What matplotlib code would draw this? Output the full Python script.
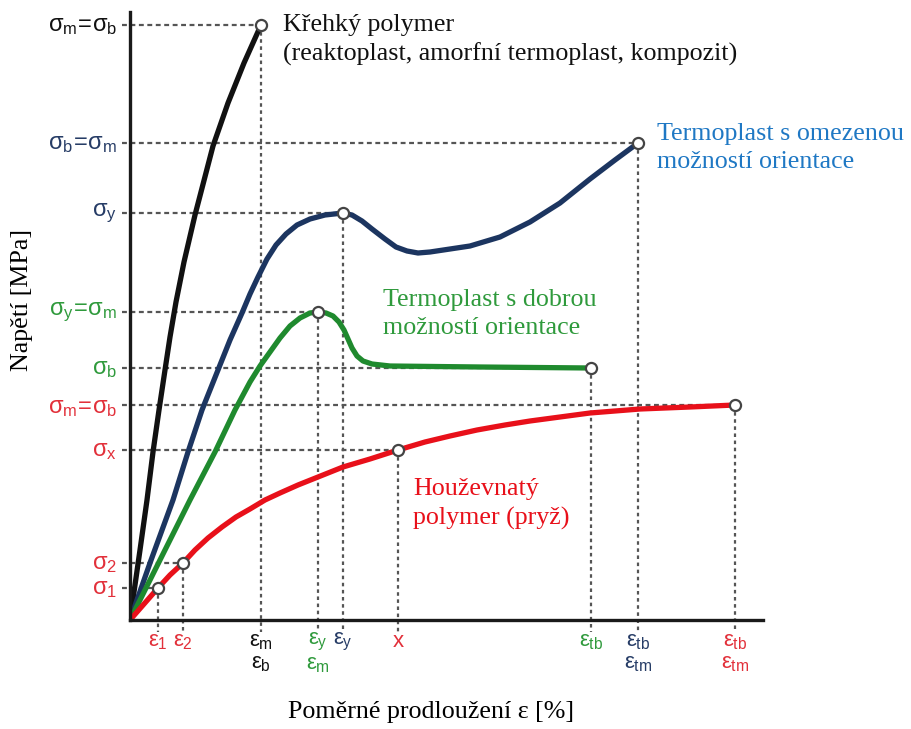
import matplotlib
matplotlib.use("Agg")
import matplotlib.pyplot as plt

# Settings
plt.rcParams['mathtext.fontset'] = 'custom'
plt.rcParams['mathtext.rm'] = 'Liberation Sans'
plt.rcParams['mathtext.it'] = 'Liberation Sans'
plt.rcParams['mathtext.bf'] = 'Liberation Sans:bold'
SERIF = 'Liberation Serif'

BLACK = '#111111'
NAVY = '#1c3560'
GREEN = '#1f8a2e'
RED = '#e8101a'
NAVY_TXT = '#263c66'
GREEN_TXT = '#2f9a3c'
RED_TXT = '#e2303a'
BLUE_TXT = '#1f78c4'
DASH = '#555555'

# Curves (strain, stress) in arbitrary units
brittle_x = [0, 10, 17, 23, 29, 35, 40, 46, 54, 65, 83, 98, 114, 131]
brittle_y = [0, 70, 120, 168, 210, 250, 283, 318, 358, 405, 474, 517, 557, 595]

limited_x = [0, 20, 43, 58, 72, 88, 100, 112, 120, 128, 137, 146, 156, 167,
             180, 195, 213, 222, 232, 242, 255, 266, 277, 288, 300, 320, 340,
             370, 400, 430, 460, 485, 508]
limited_y = [0, 57, 120, 168, 210, 250, 280, 307, 326, 343, 361, 375, 386, 395,
             401, 405, 407, 405, 399, 391, 381, 373, 369, 367, 368, 371, 374,
             383, 398, 417, 441, 460, 477]

good_x = [0, 30, 60, 85, 105, 120, 130, 140, 150, 160, 170, 180, 188, 196,
          203, 209, 214, 218, 222, 227, 233, 242, 260, 350, 461]
good_y = [0, 60, 120, 168, 210, 238, 254, 268, 282, 294, 302, 307, 308, 307,
          304, 298, 290, 281, 272, 264, 259, 256, 254, 253, 252]

tough_x = [0, 14, 28, 40, 53, 65, 78, 92, 106, 120, 135, 150, 168, 188, 213,
           240, 268, 295, 320, 347, 375, 400, 430, 460, 510, 560, 605]
tough_y = [0, 16, 32, 45, 57, 70, 82, 93, 103, 111, 120, 127, 135, 143, 153,
           161, 170, 178, 184, 190, 195, 199, 203, 207, 211, 213, 215]

# Marked points (strain, stress) with dashed guides to both axes
mark_x = [131, 508, 213, 188, 461, 605, 268, 53, 28]
mark_y = [595, 477, 407, 308, 252, 215, 170, 57, 32]

# Axis labels on the stress axis
ytick_vals = [595, 477, 407, 308, 252, 213, 170, 57, 32]
ytick_labels = [r'$\sigma_{m}\!=\!\sigma_{b}$', r'$\sigma_{b}\!=\!\sigma_{m}$',
                r'$\sigma_{y}$', r'$\sigma_{y}\!=\!\sigma_{m}$', r'$\sigma_{b}$',
                r'$\sigma_{m}\!=\!\sigma_{b}$', r'$\sigma_{x}$', r'$\sigma_{2}$',
                r'$\sigma_{1}$']
ytick_colors = [BLACK, NAVY_TXT, NAVY_TXT, GREEN_TXT, GREEN_TXT,
                RED_TXT, RED_TXT, RED_TXT, RED_TXT]

# Axis labels on the strain axis
xtick_vals = [28, 53, 131, 188, 213, 268, 461, 508, 605]
xtick_labels = [r'$\varepsilon_{1}$', r'$\varepsilon_{2}$',
                '$\\varepsilon_{m}$\n$\\varepsilon_{b}$',
                '$\\varepsilon_{y}$\n$\\varepsilon_{m}$',
                r'$\varepsilon_{y}$', 'x', r'$\varepsilon_{tb}$',
                '$\\varepsilon_{tb}$\n$\\varepsilon_{tm}$',
                '$\\varepsilon_{tb}$\n$\\varepsilon_{tm}$']
xtick_colors = [RED_TXT, RED_TXT, BLACK, GREEN_TXT, NAVY_TXT, RED_TXT,
                GREEN_TXT, NAVY_TXT, RED_TXT]


def Main():
    fig = plt.figure(figsize=(9.11, 7.29), dpi=100)
    ax = fig.add_axes([130/911, 109/729, 633/911, 608/729])
    ax.set_xlim(0, 633)
    ax.set_ylim(0, 608)

    # Guides
    for x, y in zip(mark_x, mark_y):
        ax.plot([-8, x], [y, y], color=DASH, lw=1.6, ls=(0, (2.2, 1.6)),
                clip_on=False, zorder=1)
        ax.plot([x, x], [y, -12], color=DASH, lw=1.6, ls=(0, (1.6, 1.6)),
                clip_on=False, zorder=1)

    # Curves
    kw = dict(lw=3.8, solid_joinstyle='round', solid_capstyle='round', zorder=3)
    ax.plot(brittle_x, brittle_y, color=BLACK, **kw)
    ax.plot(limited_x, limited_y, color=NAVY, **kw)
    ax.plot(good_x, good_y, color=GREEN, **kw)
    ax.plot(tough_x, tough_y, color=RED, **kw)

    ax.plot(mark_x, mark_y, ls='none', marker='o', ms=8, mfc='white',
            mec='#444444', mew=1.6, zorder=4, clip_on=False)

    # Frame
    for s in ['top', 'right']:
        ax.spines[s].set_visible(False)
    for s in ['left', 'bottom']:
        ax.spines[s].set_linewidth(2.4)
        ax.spines[s].set_color('#1a1a1a')
        ax.spines[s].set_zorder(5)
    ax.set_xticks([])
    ax.set_yticks([])

    # Tick labels
    for v, lab, c in zip(ytick_vals, ytick_labels, ytick_colors):
        ax.text(-13, v, lab, color=c, fontsize=17, ha='right', va='center')
    for v, lab, c in zip(xtick_vals, xtick_labels, xtick_colors):
        ax.text(v, -11, lab, color=c, fontsize=16, ha='center', va='top',
                linespacing=1.0, family='Liberation Sans')

    # Curve names
    tkw = dict(fontsize=18.7, family=SERIF, ha='left', va='center',
               linespacing=1.35)
    ax.text(153, 580, "Křehký polymer\n(reaktoplast, amorfní termoplast, kompozit)",
            color='#111111', **tkw)
    ax.text(527, 472, "Termoplast s omezenou\nmožností orientace",
            color=BLUE_TXT, **tkw)
    ax.text(253, 306, "Termoplast s dobrou\nmožností orientace",
            color=GREEN_TXT, **tkw)
    ax.text(283, 116, "Houževnatý\npolymer (pryž)", color=RED, **tkw)

    # Axis titles
    fig.text(22/911, 1 - 300/729, "Napětí [MPa]", rotation=90, fontsize=18.7,
             family=SERIF, ha='center', va='center')
    fig.text(431/911, 1 - 712/729, "Poměrné prodloužení ε [%]", fontsize=18.7,
             family=SERIF, ha='center', va='center')

    fig.savefig("out.png", dpi=100)
    plt.close("all")


if __name__ == "__main__":
    Main()
